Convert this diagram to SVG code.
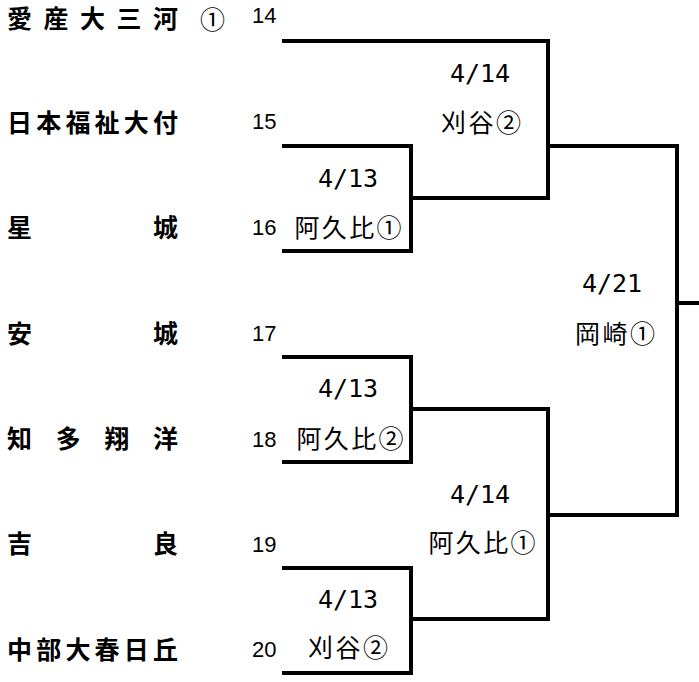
<svg xmlns="http://www.w3.org/2000/svg" width="699" height="682" viewBox="0 0 699 682">
<style>
.name{font-family:"Noto Sans CJK JP","Noto Sans CJK SC",sans-serif;font-weight:bold;font-size:25px;fill:#000}
.circ{font-family:"Noto Sans CJK JP",sans-serif;font-size:25px;fill:#000}
.num{font-family:"Liberation Sans",Arial,sans-serif;font-size:22px;fill:#000}
.date{font-family:"DejaVu Sans Mono",monospace;font-size:25px;fill:#000;text-anchor:middle}
.win{font-family:"Noto Sans CJK JP",sans-serif;font-size:25px;fill:#000;text-anchor:middle}
.ln{fill:none;stroke:#000;stroke-width:4;stroke-linecap:square;stroke-linejoin:miter}
</style>
<rect width="699" height="682" fill="#fff"/>
<g id="team14"><text class="name" x="7" y="27.5" textLength="171" lengthAdjust="spacing">愛産大三河</text><text class="circ" x="200" y="29">①</text><text class="num" x="252" y="23">14</text></g>
<g id="team15"><text class="name" x="7" y="132" textLength="171" lengthAdjust="spacing">日本福祉大付</text><text class="num" x="252" y="129">15</text></g>
<g id="team16"><text class="name" x="7" y="237" textLength="171" lengthAdjust="spacing">星城</text><text class="num" x="252" y="235">16</text></g>
<g id="team17"><text class="name" x="7" y="343" textLength="171" lengthAdjust="spacing">安城</text><text class="num" x="252" y="341">17</text></g>
<g id="team18"><text class="name" x="7" y="448" textLength="171" lengthAdjust="spacing">知多翔洋</text><text class="num" x="252" y="447">18</text></g>
<g id="team19"><text class="name" x="7" y="553" textLength="171" lengthAdjust="spacing">吉良</text><text class="num" x="252" y="552">19</text></g>
<g id="team20"><text class="name" x="7" y="659" textLength="171" lengthAdjust="spacing">中部大春日丘</text><text class="num" x="252" y="657">20</text></g>
<g id="connectors">
<path class="ln" d="M284 41H548V198H411"/>
<path class="ln" d="M284 146H411V251H284"/>
<path class="ln" d="M284 357H411V462H284"/>
<path class="ln" d="M284 568H411V673H284"/>
<path class="ln" d="M411 409H548V619H411"/>
<path class="ln" d="M548 146H677V515H548"/>
<path class="ln" d="M677 303H699"/>
</g>
<g id="match-r1a"><text class="date" x="348" y="187">4/13</text><text class="win" x="348" y="237" textLength="107" lengthAdjust="spacing">阿久比①</text></g>
<g id="match-r2a"><text class="date" x="480" y="82">4/14</text><text class="win" x="481" y="132" textLength="80" lengthAdjust="spacing">刈谷②</text></g>
<g id="match-r1b"><text class="date" x="348" y="397">4/13</text><text class="win" x="350" y="448" textLength="107" lengthAdjust="spacing">阿久比②</text></g>
<g id="match-r2b"><text class="date" x="480" y="503">4/14</text><text class="win" x="482" y="552" textLength="107" lengthAdjust="spacing">阿久比①</text></g>
<g id="match-r1c"><text class="date" x="348" y="608">4/13</text><text class="win" x="348" y="657" textLength="80" lengthAdjust="spacing">刈谷②</text></g>
<g id="match-final"><text class="date" x="612" y="292">4/21</text><text class="win" x="615" y="343" textLength="80" lengthAdjust="spacing">岡崎①</text></g>
</svg>
